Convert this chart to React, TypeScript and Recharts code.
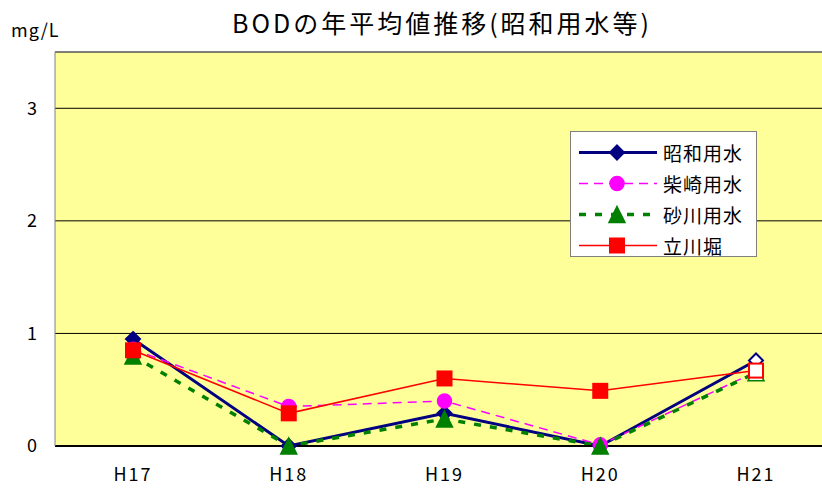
import React from 'react';
import { LineChart, Line, XAxis, YAxis, CartesianGrid, ReferenceLine } from 'recharts';

const categories = ['H17', 'H18', 'H19', 'H20', 'H21'];
const showa = [0.95, 0, 0.29, 0, 0.76];
const shibasaki = [0.86, 0.35, 0.4, 0.01, 0.66];
const sunagawa = [0.8, 0, 0.24, 0, 0.65];
const tachikawa = [0.85, 0.29, 0.6, 0.49, 0.67];
const yTicks = [0, 1, 2, 3];

const seriesNames = ['昭和用水', '柴崎用水', '砂川用水', '立川堀'];

const data = categories.map((c, i) => ({
  name: c,
  s0: showa[i],
  s1: shibasaki[i],
  s2: sunagawa[i],
  s3: tachikawa[i],
}));

const FONT = '"Noto Sans CJK JP", "Noto Sans", sans-serif';

type Kind = 'diamond' | 'circle' | 'triangle' | 'square';

function marker(kind: Kind, cx: number, cy: number, color: string, fill: string, key?: string) {
  if (kind === 'diamond') {
    const s = 7;
    return <path key={key} d={`M${cx},${cy - s} L${cx + s},${cy} L${cx},${cy + s} L${cx - s},${cy} Z`} fill={fill} stroke={color} strokeWidth={2} />;
  }
  if (kind === 'circle') {
    return <circle key={key} cx={cx} cy={cy} r={7} fill={fill} stroke={color} strokeWidth={1.5} />;
  }
  if (kind === 'triangle') {
    const s = 8;
    return <path key={key} d={`M${cx},${cy - s} L${cx + s},${cy + s} L${cx - s},${cy + s} Z`} fill={fill} stroke={color} strokeWidth={1.5} />;
  }
  const h = 7;
  return <rect key={key} x={cx - h} y={cy - h} width={2 * h} height={2 * h} fill={fill} stroke={color} strokeWidth={2} />;
}

const styles = [
  { key: 's0', color: '#000080', kind: 'diamond' as Kind, width: 3, dash: undefined },
  { key: 's1', color: '#FF00FF', kind: 'circle' as Kind, width: 1.5, dash: '9 6' },
  { key: 's2', color: '#008000', kind: 'triangle' as Kind, width: 3.5, dash: '7 9' },
  { key: 's3', color: '#FF0000', kind: 'square' as Kind, width: 1.5, dash: undefined },
];

const makeDot = (color: string, kind: Kind, sk: string) => (props: any) => {
  const { cx, cy, index } = props;
  const fill = index === 4 ? '#FFFFFF' : color;
  return marker(kind, cx, cy, color, fill, `${sk}-${index}`);
};

const LegendBox = () => (
  <div
    style={{
      position: 'absolute',
      left: 570,
      top: 131,
      width: 187,
      height: 126,
      background: '#FFFFFF',
      border: '1px solid #808080',
      boxSizing: 'border-box',
      fontFamily: FONT,
      fontSize: 19,
      letterSpacing: 1,
    }}
  >
    {styles.map((s, i) => (
      <div key={s.key} style={{ display: 'flex', alignItems: 'center', height: 31, marginTop: i === 0 ? 5 : 0 }}>
        <svg width={92} height={31} style={{ display: 'block' }}>
          <line x1={8} y1={15.5} x2={86} y2={15.5} stroke={s.color} strokeWidth={s.width} strokeDasharray={s.dash} />
          {marker(s.kind, 46, 15.5, s.color, s.color)}
        </svg>
        <span style={{ color: '#000', lineHeight: '31px' }}>{seriesNames[i]}</span>
      </div>
    ))}
  </div>
);

export default function App() {
  return (
    <div style={{ position: 'absolute', left: 0, top: 0, width: 822, height: 493, overflow: 'hidden', background: '#FFFFFF' }}>
      <div style={{ position: 'absolute', left: 0, width: 884, top: 4, textAlign: 'center', fontFamily: FONT, fontSize: 25, letterSpacing: 3, color: '#000' }}>
        BODの年平均値推移(昭和用水等)
      </div>
      <div style={{ position: 'absolute', left: 11, top: 16, fontFamily: FONT, fontSize: 18, letterSpacing: 1, color: '#000' }}>mg/L</div>
      <LineChart width={834} height={493} data={data} margin={{ top: 52, right: 0, left: 0, bottom: 0 }}>
        <CartesianGrid vertical={false} stroke="#000000" fill="#FFFF99" fillOpacity={1} />
        <XAxis
          dataKey="name"
          height={47}
          padding={{ left: 78, right: 78 }}
          tickLine={false}
          axisLine={{ stroke: '#000000', strokeWidth: 2 }}
          tickMargin={16}
          tick={{ fill: '#000', fontSize: 18, fontFamily: FONT, letterSpacing: 2 }}
        />
        <YAxis
          width={55}
          domain={[0, 3.5]}
          ticks={yTicks}
          tickLine={false}
          axisLine={{ stroke: '#808080' }}
          tickMargin={12}
          tick={{ fill: '#000', fontSize: 18, fontFamily: FONT }}
        />
        <ReferenceLine y={3.5} stroke="#808080" />
        {styles.map((s, i) => (
          <Line
            key={s.key}
            dataKey={s.key}
            name={seriesNames[i]}
            stroke={s.color}
            strokeWidth={s.width}
            strokeDasharray={s.dash}
            type="linear"
            isAnimationActive={false}
            dot={makeDot(s.color, s.kind, s.key)}
            activeDot={false}
          />
        ))}
      </LineChart>
      <LegendBox />
    </div>
  );
}
